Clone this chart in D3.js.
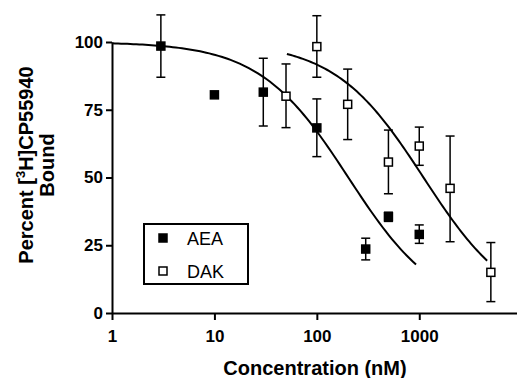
<!DOCTYPE html>
<html lang="en">
<head>
<meta charset="UTF-8">
<title>CP55940 displacement</title>
<style>
  body { margin: 0; background: #fff; }
  svg { display: block; background: #fff; font-family: "Liberation Sans", Arial, sans-serif; }
  .axis path, .axis line { stroke: #000; stroke-width: 2; }
  .axis text { font-size: 17px; font-weight: bold; fill: #000; }
  .title { font-size: 20px; font-weight: bold; fill: #000; }
</style>
</head>
<body>
<svg width="517" height="378"></svg>
<script src="https://d3js.org/d3.v7.min.js"></script>
<script>
  // AEA (filled squares): concentration nM, percent bound, error low/high
  const aeaConc = [3, 10, 30, 100, 300, 500, 1000];
  const aeaMean = [98.5, 80.5, 81.5, 68.3, 23.6, 35.5, 29];
  const aeaLow  = [87, 80.5, 69, 57.7, 19.6, 33.8, 25.7];
  const aeaHigh = [110, 80.5, 94, 79, 27.6, 37.2, 32.5];

  // DAK (open squares)
  const dakConc = [50, 100, 200, 500, 1000, 2000, 5000];
  const dakMean = [80, 98.3, 77, 55.7, 61.6, 46, 15];
  const dakLow  = [68.4, 87, 64, 44, 54.5, 26.3, 4.2];
  const dakHigh = [91.9, 109.7, 90, 67.5, 68.6, 65.3, 26];

  // fitted one-site competition curves: top, bottom, IC50 (nM), plotted range
  const curveNames = ["AEA", "DAK"];
  const curveIC50 = [203, 1100];
  const curveFrom = [1, 51];
  const curveTo = [930, 4600];

  const xTicks = [1, 10, 100, 1000];
  const yTicks = [0, 25, 50, 75, 100];

  const svg = d3.select("svg");
  const x = d3.scaleLog().domain([1, 9000]).range([112, 517]);
  const y = d3.scaleLinear().domain([0, 100]).range([313, 42]);

  // axes
  svg.append("g").attr("class", "axis")
    .attr("transform", "translate(0,313)")
    .call(d3.axisBottom(x).tickValues(xTicks).tickFormat(d3.format("d")).tickSize(7).tickSizeOuter(0).tickPadding(10));
  svg.append("g").attr("class", "axis")
    .attr("transform", "translate(112,0)")
    .call(d3.axisLeft(y).tickValues(yTicks).tickSize(6).tickSizeOuter(0).tickPadding(3));

  // curves
  curveNames.forEach((name, i) => {
    const pts = d3.range(0, 101).map(k => {
      const lx = Math.log10(curveFrom[i]) + (Math.log10(curveTo[i]) - Math.log10(curveFrom[i])) * k / 100;
      const c = Math.pow(10, lx);
      return [c, 100 / (1 + c / curveIC50[i])];
    });
    svg.append("path")
      .attr("d", d3.line().x(d => x(d[0])).y(d => y(d[1]))(pts))
      .attr("fill", "none").attr("stroke", "#000").attr("stroke-width", 2);
  });

  function drawSeries(conc, mean, low, high, filled) {
    const g = svg.append("g");
    conc.forEach((c, i) => {
      const cx = x(c);
      if (high[i] - low[i] > 0.5) {
        g.append("line").attr("x1", cx).attr("x2", cx).attr("y1", y(low[i])).attr("y2", y(high[i]))
          .attr("stroke", "#000").attr("stroke-width", 1.5);
        [low[i], high[i]].forEach(v => {
          g.append("line").attr("x1", cx - 4.5).attr("x2", cx + 4.5).attr("y1", y(v)).attr("y2", y(v))
            .attr("stroke", "#000").attr("stroke-width", 1.5);
        });
      }
      g.append("rect")
        .attr("x", cx - 4).attr("y", y(mean[i]) - 4).attr("width", 8).attr("height", 8)
        .attr("fill", filled ? "#000" : "#fff").attr("stroke", "#000").attr("stroke-width", 1.5);
    });
  }
  drawSeries(aeaConc, aeaMean, aeaLow, aeaHigh, true);
  drawSeries(dakConc, dakMean, dakLow, dakHigh, false);

  // axis titles
  svg.append("text").attr("class", "title").attr("x", 315).attr("y", 375)
    .attr("text-anchor", "middle").text("Concentration (nM)");

  const yt = svg.append("text").attr("class", "title")
    .attr("transform", "translate(33,165) rotate(-90)").attr("text-anchor", "middle");
  yt.append("tspan").text("Percent [");
  yt.append("tspan").attr("dy", -8).style("font-size", "13px").text("3");
  yt.append("tspan").attr("dy", 8).text("H]CP55940");
  svg.append("text").attr("class", "title")
    .attr("transform", "translate(54,165) rotate(-90)").attr("text-anchor", "middle").text("Bound");

  // legend
  const leg = svg.append("g");
  leg.append("rect").attr("x", 144).attr("y", 224).attr("width", 104).attr("height", 60)
    .attr("fill", "#fff").attr("stroke", "#000").attr("stroke-width", 2);
  curveNames.forEach((name, i) => {
    const ly = 238 + i * 33;
    leg.append("rect").attr("x", 159).attr("y", ly - 4).attr("width", 8).attr("height", 8)
      .attr("fill", i === 0 ? "#000" : "#fff").attr("stroke", "#000").attr("stroke-width", 1.5);
    leg.append("text").attr("x", 187).attr("y", ly + 6.5)
      .style("font-size", "18px").attr("fill", "#000").text(name);
  });
</script>
</body>
</html>
